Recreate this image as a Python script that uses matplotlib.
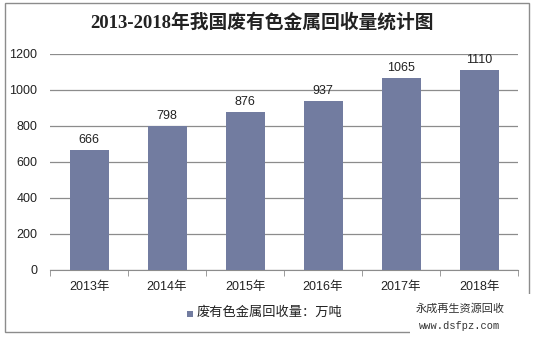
import numpy as np
import matplotlib.pyplot as plt
from matplotlib.patches import Rectangle

years = ['2013年', '2014年', '2015年', '2016年', '2017年', '2018年']
recovery = [666, 798, 876, 937, 1065, 1110]
yticks = [0, 200, 400, 600, 800, 1000, 1200]

title = '2013-2018年我国废有色金属回收量统计图'
series_name = '废有色金属回收量：万吨'

fonts = ['Liberation Sans', 'Noto Sans CJK SC', 'DejaVu Sans']
plt.rcParams['font.family'] = fonts

fig = plt.figure(figsize=(5.39, 3.39), dpi=100)
ax = fig.add_axes([50/539, 1-270/339, 468/539, 216/339])

x = np.arange(len(years))
bars = ax.bar(x, recovery, width=0.5, color='#727ca0', zorder=3)
for xi, v in zip(x, recovery):
    ax.text(xi, v + 25, str(v), ha='center', va='bottom', fontsize=9, color='#222222')

ax.set_xlim(-0.5, len(years) - 0.5)
ax.set_ylim(0, 1200)
ax.set_yticks(yticks)
ax.set_yticklabels([str(t) for t in yticks], fontsize=9, color='#222222')
ax.yaxis.grid(True, color='#8c8c8c', linewidth=0.9, zorder=0)
ax.tick_params(axis='y', length=0, pad=9)

ax.set_xticks(x)
ax.set_xticklabels(years, fontsize=9, color='#222222')
ax.set_xticks(np.arange(-0.5, len(years)), minor=True)
ax.tick_params(axis='x', which='major', length=0, pad=8)
ax.tick_params(axis='x', which='minor', length=4, color='#8c8c8c', direction='out')

for side in ['top', 'right', 'left']:
    ax.spines[side].set_visible(False)
ax.spines['bottom'].set_color('#8c8c8c')

# outer frame
fig.patches.append(Rectangle((5/539, 1-332/339), 524/539, 329/339, transform=fig.transFigure,
                             fill=False, edgecolor='#8c8c8c', linewidth=1))

fig.text(262/539, 1-22/339, title, ha='center', va='center', fontsize=13.5,
         fontweight='bold', color='#222222', family=['Liberation Serif', 'Noto Sans CJK SC'])

# legend
fig.patches.append(Rectangle((187/539, 1-317/339), 6/539, 6/339, transform=fig.transFigure,
                             facecolor='#727ca0', edgecolor='none'))
fig.text(197/539, 1-313/339, series_name, ha='left', va='center', fontsize=9.5, color='#222222')

# watermark
fig.patches.append(Rectangle((410/539, 0), 129/539, 45/339, transform=fig.transFigure,
                             facecolor='white', edgecolor='none', zorder=5))
fig.text(460/539, 1-309/339, '永成再生资源回收', ha='center', va='center', fontsize=8,
         color='#333333', zorder=6)
fig.text(460/539, 1-326/339, 'www.dsfpz.com', ha='center', va='center', fontsize=7.5,
         color='#333333', family='Liberation Mono', zorder=6)

fig.savefig('out.png', dpi=100)
